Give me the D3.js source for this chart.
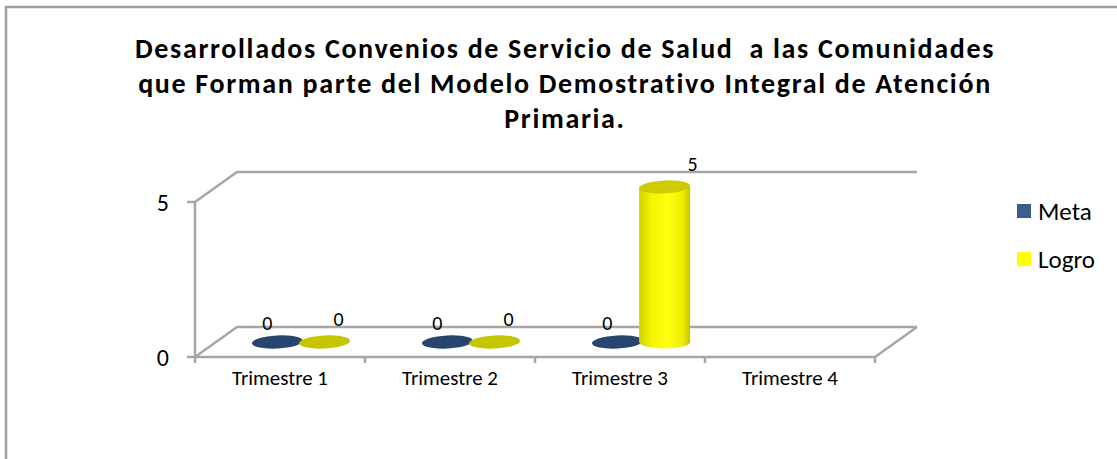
<!DOCTYPE html>
<html>
<head>
<meta charset="utf-8">
<script src="https://cdn.jsdelivr.net/npm/d3@7"></script>
<style>
  body { margin: 0; background: #fff; }
  text { font-family: Carlito, Calibri, Lato, sans-serif; }
</style>
</head>
<body>
<div id="chart"></div>
<script>
// data
var categories = ["Trimestre 1", "Trimestre 2", "Trimestre 3", "Trimestre 4"];
var seriesNames = ["Meta", "Logro"];
var metaValues = [0, 0, 0, null];
var logroValues = [0, 0, 5, null];
var yTicks = [0, 5];
var titleLines = [
    "Desarrollados Convenios de Servicio de Salud  a las Comunidades",
    "que Forman parte del Modelo Demostrativo Integral de Atención",
    "Primaria."
];

var colors = { Meta: "#27456f", Logro: "#c6c600" };
var legendColors = { Meta: "#3b5e8c", Logro: "#ffff00" };

var W = 1117, H = 459;

var svg = d3.select("#chart").append("svg")
    .attr("width", W)
    .attr("height", H);

// outer frame
svg.append("rect")
    .attr("x", 6).attr("y", 7)
    .attr("width", 1300).attr("height", 600)
    .attr("fill", "none")
    .attr("stroke", "#9e9e9e")
    .attr("stroke-width", 2.5);

// fit a text's font size so its width matches the reference
function fitWidth(sel, target) {
    var fs = +sel.attr("font-size");
    var w = sel.node().getComputedTextLength();
    sel.attr("font-size", fs * target / w);
    return fs * target / w;
}

// title
var title = svg.append("text")
    .attr("text-anchor", "middle")
    .attr("font-weight", "bold")
    .attr("font-size", 28)
    .style("white-space", "pre")
    .attr("fill", "#000");
title.selectAll("tspan")
    .data(titleLines)
    .enter().append("tspan")
    .attr("x", 565)
    .attr("y", function (d, i) { return 58 + i * 35; })
    .text(function (d) { return d; });

// first line is ~860px wide in the reference: nudge with letter spacing
var l1 = title.select("tspan").node().getComputedTextLength();
var ls = Math.max(0, (860 - l1) / titleLines[0].length);
title.attr("letter-spacing", ls);

// 3d frame geometry
var depthX = 42, depthY = -30;

var x = d3.scaleBand()
    .domain(categories)
    .range([195, 875]);

var y = d3.scaleLinear()
    .domain([0, 5])
    .range([357, 202]);

var xs = d3.scaleBand()
    .domain(seriesNames)
    .range([0, x.bandwidth()])
    .paddingInner(0)
    .paddingOuter(0.8);

var wall = svg.append("g")
    .attr("stroke", "#a6a6a6")
    .attr("stroke-width", 2.5)
    .attr("fill", "none");

var x0 = x.range()[0], x1 = x.range()[1];

// gridlines on side wall and back wall
yTicks.forEach(function (t) {
    wall.append("path")
        .attr("d", "M" + x0 + "," + y(t) +
            "L" + (x0 + depthX) + "," + (y(t) + depthY) +
            "L" + (x1 + depthX) + "," + (y(t) + depthY));
});

// floor front edge + right edge
wall.append("path")
    .attr("d", "M" + x0 + "," + y(0) + "L" + x1 + "," + y(0) +
        "L" + (x1 + depthX) + "," + (y(0) + depthY));

// y axis
wall.append("line")
    .attr("x1", x0).attr("x2", x0)
    .attr("y1", y(5)).attr("y2", y(0));

// y ticks
yTicks.forEach(function (t) {
    wall.append("line")
        .attr("x1", x0 - 8).attr("x2", x0)
        .attr("y1", y(t)).attr("y2", y(t));
});

// x ticks
var xTickPos = categories.map(function (c) { return x(c); }).concat([x1]);
xTickPos.forEach(function (p) {
    wall.append("line")
        .attr("x1", p).attr("x2", p)
        .attr("y1", y(0)).attr("y2", y(0) + 6);
});

// y tick labels
svg.append("g").selectAll("text")
    .data(yTicks)
    .enter().append("text")
    .attr("x", 169)
    .attr("y", function (d) { return y(d) + 1; })
    .attr("dy", "0.35em")
    .attr("text-anchor", "end")
    .attr("font-size", 24)
    .text(function (d) { return d; });

// category labels
var catG = svg.append("g");
var catLabels = catG.selectAll("text")
    .data(categories)
    .enter().append("text")
    .attr("x", function (d) { return x(d) + x.bandwidth() / 2; })
    .attr("y", 385)
    .attr("text-anchor", "middle")
    .attr("font-size", 20)
    .text(function (d) { return d; });
var catFs = fitWidth(d3.select(catLabels.node()), 96);
catLabels.attr("font-size", catFs);

// cylinder gradient
var defs = svg.append("defs");
var grad = defs.append("linearGradient")
    .attr("id", "cylYellow")
    .attr("x1", "0%").attr("x2", "100%");
grad.append("stop").attr("offset", "0%").attr("stop-color", "#d2d200");
grad.append("stop").attr("offset", "25%").attr("stop-color", "#f6f600");
grad.append("stop").attr("offset", "55%").attr("stop-color", "#ffff10");
grad.append("stop").attr("offset", "85%").attr("stop-color", "#eeee00");
grad.append("stop").attr("offset", "100%").attr("stop-color", "#c4c400");

var bars = [];
categories.forEach(function (c, i) {
    [["Meta", metaValues[i]], ["Logro", logroValues[i]]].forEach(function (s) {
        if (s[1] === null) return;
        bars.push({ cat: c, series: s[0], value: s[1] });
    });
});

var rx = xs.bandwidth() * 0.54, ry = 6.5;

function barX(d) { return x(d.cat) + xs(d.series) + xs.bandwidth() / 2 + depthX / 2; }
function barBase(d) { return y(0) + depthY / 2; }
function barTop(d) { return y(d.value) + depthY / 2; }

var barG = svg.append("g").selectAll("g")
    .data(bars)
    .enter().append("g");

// body
barG.filter(function (d) { return d.value > 0; })
    .append("path")
    .attr("d", function (d) {
        var c = barX(d);
        return "M" + (c - rx) + "," + barTop(d) +
            "L" + (c - rx) + "," + barBase(d) +
            "A" + rx + "," + ry + " 0 0 0 " + (c + rx) + "," + barBase(d) +
            "L" + (c + rx) + "," + barTop(d) + "Z";
    })
    .attr("fill", "url(#cylYellow)");

// top caps
barG.append("ellipse")
    .attr("cx", barX)
    .attr("cy", barTop)
    .attr("rx", rx)
    .attr("ry", ry)
    .attr("transform", function (d) {
        return "rotate(-3," + barX(d) + "," + barTop(d) + ")";
    })
    .attr("fill", function (d) { return d.value > 0 ? "#cccc00" : colors[d.series]; });

// data labels
barG.append("text")
    .attr("x", function (d) {
        return barX(d) + (d.series === "Meta" ? -10 : 14 + 14 * d.value / 5);
    })
    .attr("y", function (d) { return barTop(d) - (d.series === "Meta" ? 19 : 23); })
    .attr("dy", "0.35em")
    .attr("text-anchor", "middle")
    .attr("font-size", 20)
    .text(function (d) { return d.value; });

// legend
var legend = svg.append("g").selectAll("g")
    .data(seriesNames)
    .enter().append("g")
    .attr("transform", function (d, i) { return "translate(1017," + (204 + i * 48) + ")"; });

legend.append("rect")
    .attr("width", 14).attr("height", 14)
    .attr("fill", function (d) { return legendColors[d]; });

legend.append("text")
    .attr("x", 21)
    .attr("y", 7)
    .attr("dy", "0.35em")
    .attr("font-size", 25)
    .text(function (d) { return d; });
</script>
</body>
</html>
